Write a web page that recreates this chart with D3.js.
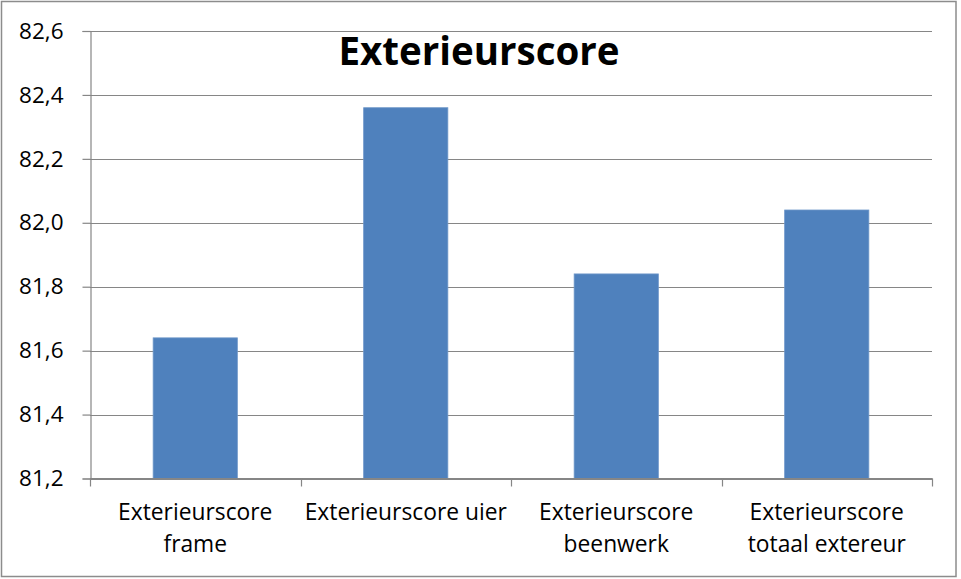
<!DOCTYPE html>
<html>
<head>
<meta charset="utf-8">
<script src="https://cdn.jsdelivr.net/npm/d3@7"></script>
<style>
  html, body { margin: 0; padding: 0; background: #fff; }
  svg { display: block; }
  text { font-family: "Open Sans", Lato, sans-serif; fill: #000; }
</style>
</head>
<body>
<svg id="chart" width="961" height="579"></svg>
<script>
// Scores per category
const categories = [
  ["Exterieurscore", "frame"],
  ["Exterieurscore uier"],
  ["Exterieurscore", "beenwerk"],
  ["Exterieurscore", "totaal extereur"]
];
const values = [81.64, 82.36, 81.84, 82.04];
const yTicks = [81.2, 81.4, 81.6, 81.8, 82.0, 82.2, 82.4, 82.6];
const title = "Exterieurscore";

const svg = d3.select("#chart");
const plot = { left: 90, right: 932, top: 31, bottom: 478.5 };

// Outer chart frame
svg.append("rect")
  .attr("x", 1.5).attr("y", 1.5)
  .attr("width", 954.5).attr("height", 575)
  .attr("fill", "#fff").attr("stroke", "#8c8c8c").attr("stroke-width", 1.5);

const x = d3.scaleBand()
  .domain(d3.range(categories.length))
  .range([plot.left, plot.right])
  .paddingInner(0.6).paddingOuter(0.3);

const xOuter = d3.scaleBand()
  .domain(d3.range(categories.length))
  .range([plot.left, plot.right]);

const y = d3.scaleLinear()
  .domain([81.2, 82.6])
  .range([plot.bottom, plot.top]);

const fmt = v => d3.format(".1f")(v).replace(".", ",");

// Horizontal gridlines
svg.append("g")
  .selectAll("line")
  .data(yTicks)
  .join("line")
  .attr("x1", plot.left).attr("x2", plot.right)
  .attr("y1", d => Math.round(y(d)) + 0.5).attr("y2", d => Math.round(y(d)) + 0.5)
  .attr("stroke", "#868686").attr("stroke-width", 1.2);

// Bars
svg.append("g")
  .selectAll("rect")
  .data(values)
  .join("rect")
  .attr("x", (d, i) => x(i))
  .attr("width", x.bandwidth())
  .attr("y", d => y(d))
  .attr("height", d => y(81.2) - y(d))
  .attr("fill", "#4f81bd")
  .attr("stroke", "#6e97c9").attr("stroke-width", 0.8);

// Y axis
const yAxis = d3.axisLeft(y)
  .tickValues(yTicks)
  .tickSize(8)
  .tickPadding(19)
  .tickFormat(fmt);
const gy = svg.append("g")
  .attr("transform", `translate(${plot.left + 0.5},0)`)
  .call(yAxis);
gy.select(".domain").attr("stroke", "#868686").attr("stroke-width", 1.2);
gy.selectAll(".tick line").attr("stroke", "#868686").attr("stroke-width", 1.2);
gy.selectAll(".tick text")
  .style("font-family", "'Open Sans', sans-serif")
  .style("font-size", "22.5px")
  .attr("fill", "#000");

// X axis with category boundary ticks
const gx = svg.append("g");
gx.append("line")
  .attr("x1", plot.left).attr("x2", plot.right + 0.5)
  .attr("y1", plot.bottom).attr("y2", plot.bottom)
  .attr("stroke", "#868686").attr("stroke-width", 1.2);
const boundaries = d3.range(categories.length + 1).map(i =>
  i < categories.length ? xOuter(i) : xOuter(i - 1) + xOuter.bandwidth());
gx.selectAll("line.tick")
  .data(boundaries)
  .join("line")
  .attr("class", "tick")
  .attr("x1", d => Math.round(d) + 0.5).attr("x2", d => Math.round(d) + 0.5)
  .attr("y1", plot.bottom).attr("y2", plot.bottom + 8)
  .attr("stroke", "#868686").attr("stroke-width", 1.2);

// Category labels
const labels = svg.append("g")
  .selectAll("text")
  .data(categories)
  .join("text")
  .attr("text-anchor", "middle")
  .attr("x", (d, i) => xOuter(i) + xOuter.bandwidth() / 2)
  .attr("y", 520)
  .style("font-size", "22.8px");
labels.selectAll("tspan")
  .data(d => d)
  .join("tspan")
  .attr("x", function() { return d3.select(this.parentNode).attr("x"); })
  .attr("dy", (d, i) => i === 0 ? 0 : 32)
  .text(d => d);

// Title
svg.append("text")
  .attr("x", 479).attr("y", 64.5)
  .attr("text-anchor", "middle")
  .style("font-size", "38.5px")
  .style("font-weight", "bold")
  .text(title);
</script>
</body>
</html>
